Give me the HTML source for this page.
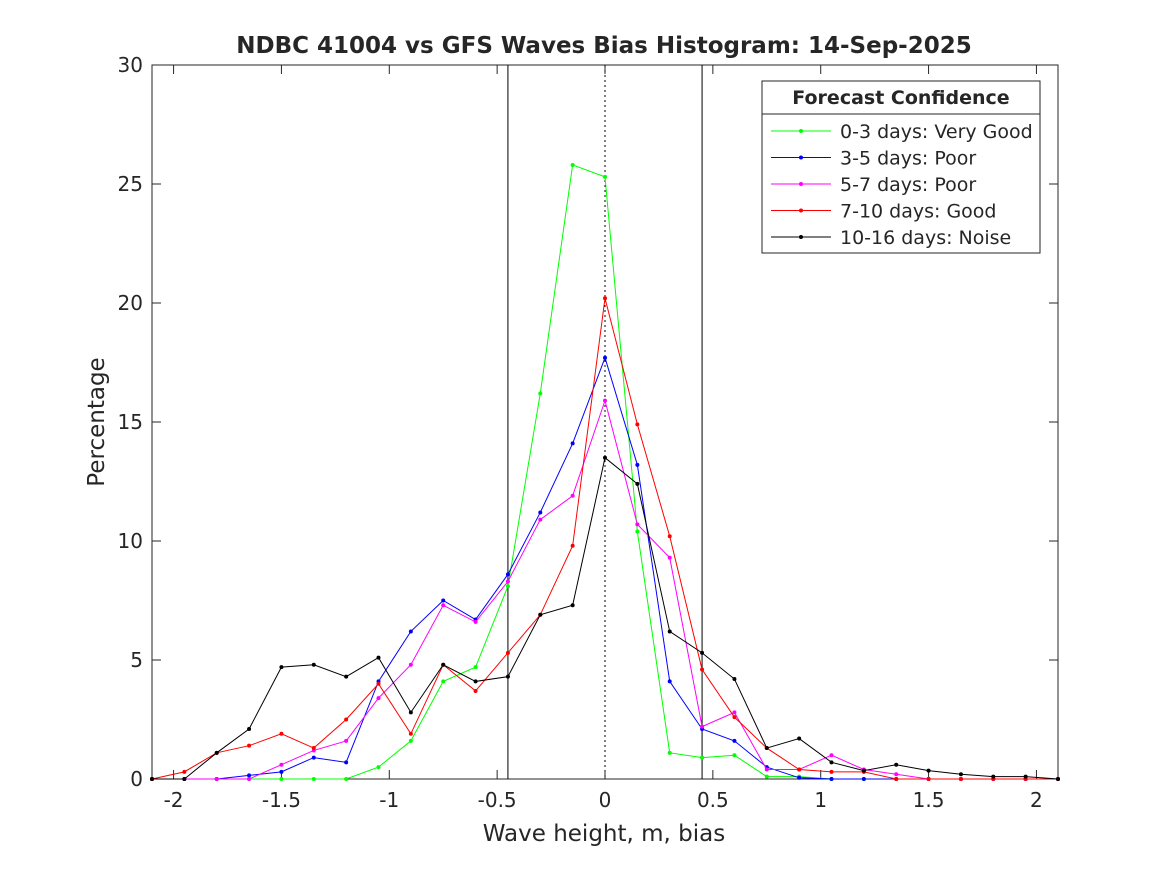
<!DOCTYPE html>
<html><head><meta charset="utf-8"><style>
body{margin:0;background:#fff;}
svg text{font-family:"DejaVu Sans","Liberation Sans",sans-serif;fill:#262626;}
</style></head><body>
<svg id="chart" width="1167" height="875" xmlns="http://www.w3.org/2000/svg">
<rect width="1167" height="875" fill="#fff"/>
<text x="604" y="53" text-anchor="middle" font-size="23" font-weight="bold" fill="#000">NDBC 41004 vs GFS Waves Bias Histogram: 14-Sep-2025</text>
<g id="axes"></g>
<g id="series"></g>
<g id="legend"></g>
<text x="604" y="841" text-anchor="middle" font-size="23">Wave height, m, bias</text>
<text transform="translate(104,422) rotate(-90)" text-anchor="middle" font-size="23">Percentage</text>
</svg>
<script>
const xTicks=[-2,-1.5,-1,-0.5,0,0.5,1,1.5,2];
const xTickLabels=["-2","-1.5","-1","-0.5","0","0.5","1","1.5","2"];
const yTicks=[0,5,10,15,20,25,30];
const binCenters=[-2.1,-1.95,-1.8,-1.65,-1.5,-1.35,-1.2,-1.05,-0.9,-0.75,-0.6,-0.45,-0.3,-0.15,0,0.15,0.3,0.45,0.6,0.75,0.9,1.05,1.2,1.35,1.5,1.65,1.8,1.95,2.1];
const green=[0,0,0,0,0,0,0,0.5,1.6,4.1,4.7,8.1,16.2,25.8,25.3,10.4,1.1,0.9,1.0,0.1,0.1,0,0,0,0,0,0,0,0];
const blue=[0,0,0,0.15,0.3,0.9,0.7,4.1,6.2,7.5,6.7,8.6,11.2,14.1,17.7,13.2,4.1,2.1,1.6,0.5,0.05,0,0,0,0,0,0,0,0];
const magenta=[0,0,0,0,0.6,1.2,1.6,3.4,4.8,7.3,6.6,8.3,10.9,11.9,15.9,10.7,9.3,2.2,2.8,0.4,0.4,1.0,0.4,0.2,0,0,0,0,0];
const red=[0,0.3,1.1,1.4,1.9,1.3,2.5,4.0,1.9,4.8,3.7,5.3,6.9,9.8,20.2,14.9,10.2,4.6,2.6,1.3,0.4,0.3,0.3,0,0,0,0,0,0];
const black=[0,0,1.1,2.1,4.7,4.8,4.3,5.1,2.8,4.8,4.1,4.3,6.9,7.3,13.5,12.4,6.2,5.3,4.2,1.3,1.7,0.7,0.35,0.6,0.35,0.2,0.1,0.1,0];
const seriesNames=["0-3 days: Very Good","3-5 days: Poor","5-7 days: Poor","7-10 days: Good","10-16 days: Noise"];
const seriesColors=["#00ff00","#0000ff","#ff00ff","#ff0000","#000000"];
const seriesData=[green,blue,magenta,red,black];
const vLines=[-0.45,0,0.45];

const L=152,R=1058,T=65,B=779,xMin=-2.1,xMax=2.1,yMin=0,yMax=30;
const sx=v=>L+(v-xMin)/(xMax-xMin)*(R-L);
const sy=v=>B-(v-yMin)/(yMax-yMin)*(B-T);
const NS="http://www.w3.org/2000/svg";
function mk(tag,attrs,parent){const e=document.createElementNS(NS,tag);for(const k in attrs)e.setAttribute(k,attrs[k]);parent.appendChild(e);return e;}
const axes=document.getElementById('axes');
let r=mk('rect',{x:L,y:T,width:R-L,height:B-T,fill:'#fff',stroke:'#262626','stroke-width':1},axes);


xTicks.forEach((v,i)=>{
  const x=sx(v);
  mk('line',{x1:x,x2:x,y1:B,y2:B-9,stroke:'#262626'},axes);
  mk('line',{x1:x,x2:x,y1:T,y2:T+9,stroke:'#262626'},axes);
  const t=mk('text',{x:x,y:B+28,'text-anchor':'middle','font-size':20},axes);
  t.textContent=xTickLabels[i];
  
  
});
yTicks.forEach(v=>{
  const y=sy(v);
  mk('line',{x1:L,x2:L+9,y1:y,y2:y,stroke:'#262626'},axes);
  mk('line',{x1:R,x2:R-9,y1:y,y2:y,stroke:'#262626'},axes);
  const t=mk('text',{x:L-9,y:y+7,'text-anchor':'end','font-size':20},axes);
  t.textContent=String(v);
  
  
});
vLines.forEach(v=>{
  const l=mk('line',{x1:sx(v),x2:sx(v),y1:T,y2:B,stroke:'#000','stroke-width':1,'stroke-dasharray':v===0?'2,3':'none'},axes);
  
  
});
const sg=document.getElementById('series');
seriesData.forEach((d,si)=>{
  const g=mk('g',{},sg);
  
  
  const pts=d.map((v,i)=>sx(binCenters[i])+','+sy(v)).join(' ');
  mk('polyline',{points:pts,fill:'none',stroke:seriesColors[si],'stroke-width':1},g);
  d.forEach((v,i)=>{
    const c=mk('circle',{cx:sx(binCenters[i]),cy:sy(v),r:2,fill:seriesColors[si]},g);
    
    
  });
});
const lg=document.getElementById('legend');


mk('rect',{x:762,y:81,width:278,height:172,fill:'#fff',stroke:'#262626'},lg);
mk('line',{x1:762,x2:1040,y1:114,y2:114,stroke:'#262626'},lg);
const lt=mk('text',{x:901,y:104,'text-anchor':'middle','font-size':19,'font-weight':'bold',fill:'#000'},lg);
lt.textContent='Forecast Confidence';


seriesNames.forEach((n,i)=>{
  const y=131+i*26.5;
  const e=mk('g',{},lg);
  
  
  mk('line',{x1:771,x2:831,y1:y,y2:y,stroke:seriesColors[i]},e);
  mk('circle',{cx:801,cy:y,r:2,fill:seriesColors[i]},e);
  const t=mk('text',{x:840,y:y+7,'font-size':19},e);
  t.textContent=n;
});
</script>
</body></html>
